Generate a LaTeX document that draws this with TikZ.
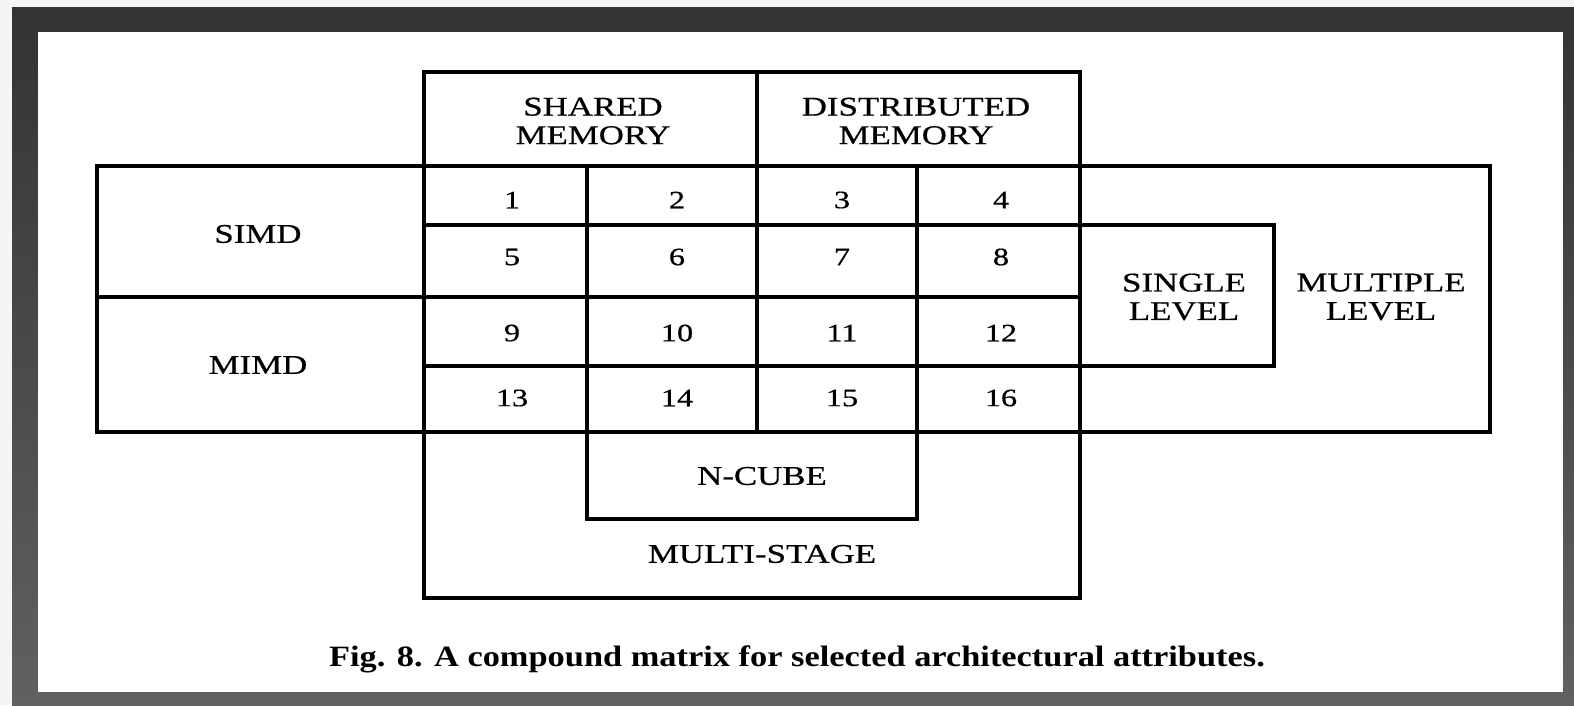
\documentclass[tikz,border=0pt]{standalone}
\usepackage{fontspec}
\setmainfont{Liberation Serif}[FakeStretch=1.29,FakeBold=0.6]
\newfontfamily\captionfont{Liberation Serif}[FakeStretch=1.165]
\begin{document}
\begin{tikzpicture}[x=1pt,y=-1pt,
  grid/.style={line width=3.6pt,line cap=rect,line join=miter},
  lbl/.style={align=center,inner sep=0pt,font=\fontsize{27}{28.5}\selectfont},
  num/.style={inner sep=0pt,font=\fontsize{25}{30}\selectfont},
  captext/.style={inner sep=0pt,font=\captionfont\bfseries\fontsize{29.5}{32}\selectfont}]
  % page background and shaded frame
  \useasboundingbox (0,0) rectangle (1574,705);
  \fill[black!4] (0,0) rectangle (1574,705);
  \shade[top color=black!80,bottom color=black!62] (12,7) rectangle (1574,705);
  \fill[white] (38,32) rectangle (1563,692);

  % column and row positions
  \def\cA{424}\def\cB{587}\def\cC{757}\def\cD{917}\def\cE{1080}
  \def\cL{97}\def\cS{1274}\def\cR{1490}
  \def\rH{72}\def\rA{166}\def\rB{225}\def\rC{297}\def\rD{366}\def\rE{432}
  \def\rN{519}\def\rM{598}

  % header box
  \draw[grid] (\cA,\rH) rectangle (\cE,\rA);
  \draw[grid] (\cC,\rH) -- (\cC,\rE);
  % outer row band (SIMD / MIMD through multiple level)
  \draw[grid] (\cL,\rA) rectangle (\cR,\rE);
  \draw[grid] (\cL,\rC) -- (\cE,\rC);
  % grid lines of the 4x4 matrix
  \draw[grid] (\cA,\rH) -- (\cA,\rM);
  \draw[grid] (\cE,\rH) -- (\cE,\rM);
  \draw[grid] (\cB,\rA) -- (\cB,\rN);
  \draw[grid] (\cD,\rA) -- (\cD,\rN);
  \draw[grid] (\cA,\rB) -- (\cS,\rB) -- (\cS,\rD) -- (\cA,\rD);
  % interconnection boxes below
  \draw[grid] (\cB,\rN) -- (\cD,\rN);
  \draw[grid] (\cA,\rM) -- (\cE,\rM);

  % header labels
  \node[lbl] (shm) at (593,121) {SHARED\\MEMORY};
  \node[lbl] (dsm) at (916,121) {DISTRIBUTED\\MEMORY};
  % row labels
  \node[lbl] (simd) at (258,234) {SIMD};
  \node[lbl] (mimd) at (258,365) {MIMD};
  % matrix cells
  \foreach \n/\x/\y in {1/512/200,2/677/200,3/842/200,4/1001/200,
                        5/512/257,6/677/257,7/842/257,8/1001/257,
                        9/512/333,10/677/333,11/842/333,12/1001/333,
                        13/512/398,14/677/398,15/842/398,16/1001/398}
    \node[num] (c\n) at (\x,\y) {\n};
  % level labels
  \node[lbl] (single) at (1184,297) {SINGLE\\LEVEL};
  \node[lbl] (multiple) at (1381,297) {MULTIPLE\\LEVEL};
  % network labels
  \node[lbl] (ncube) at (762,476) {N-CUBE};
  \node[lbl] (mstage) at (762,554) {MULTI-STAGE};
  % caption
  \node[captext] (caption) at (797,659) {Fig. 8. A compound matrix for selected architectural attributes.};
\end{tikzpicture}
\end{document}
